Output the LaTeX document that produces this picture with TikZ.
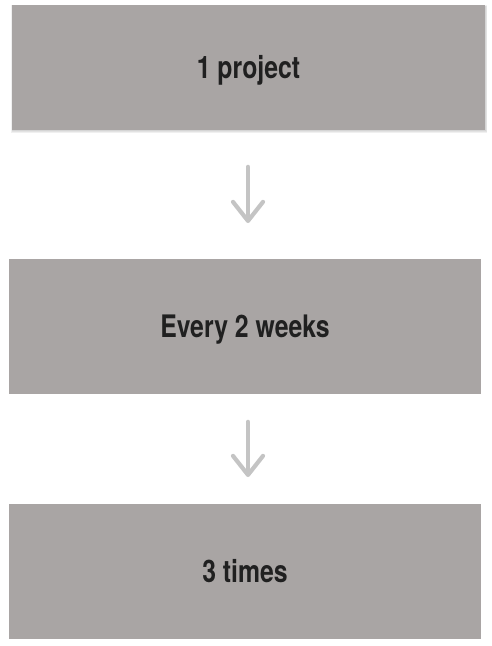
\documentclass[tikz,border=0pt]{standalone}
\usepackage{fontspec}
\setmainfont{TeX Gyre Heros}[FakeStretch=0.8]
\usetikzlibrary{arrows.meta}
\definecolor{boxgray}{HTML}{A9A5A4}
\definecolor{txtdark}{HTML}{202020}
\definecolor{arrowgray}{HTML}{C4C4C4}
\tikzset{
  box/.style={fill=boxgray, draw=none, inner sep=0pt, text=txtdark,
    text height=22pt, text depth=0pt,
    font=\fontsize{31}{36}\selectfont\bfseries},
  shadowbox/.style={fill=black, opacity=0.06, draw=none},
  flowarrow/.style={draw=arrowgray, line width=4.6pt, line cap=round,
    -{Straight Barb[length=19pt, width=30pt, line width=4.2pt, round]}}
}
\begin{document}
\begin{tikzpicture}[x=1pt, y=-1pt]
  \useasboundingbox (0,0) rectangle (492,646);
  % soft shadow of first box
  \fill[shadowbox] (11,5) rectangle (487,133);
  \fill[shadowbox] (11.5,5.5) rectangle (486.5,132);
  \fill[shadowbox] (12,6) rectangle (486,131);
  \node[box, minimum width=473pt, minimum height=125pt] (b1) at (248.5,67.5) {1 project};
  \node[box, minimum width=472pt, minimum height=135pt] (b2) at (245,326.5) {Every 2 weeks};
  \node[box, minimum width=472pt, minimum height=135pt] (b3) at (245,571.5) {3 times};
  \coordinate (a1s) at (248,167);
  \coordinate (a1e) at (248,223);
  \coordinate (a2s) at (248,422);
  \coordinate (a2e) at (248,477);
  \draw[flowarrow] (a1s) -- (a1e);
  \draw[flowarrow] (a2s) -- (a2e);
\end{tikzpicture}
\end{document}
